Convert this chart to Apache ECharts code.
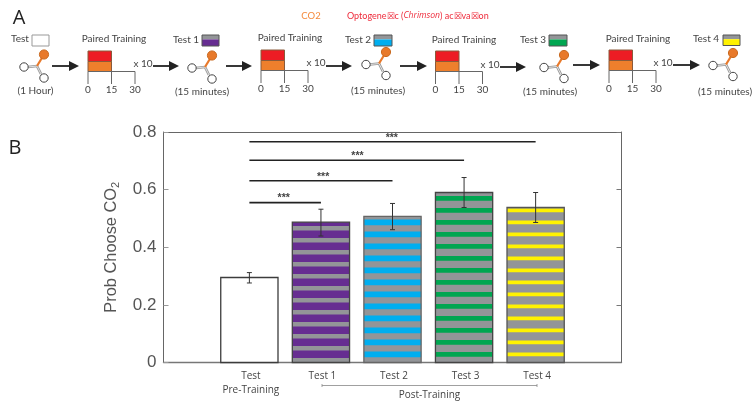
<!DOCTYPE html>
<html><head><meta charset="utf-8">
<style>html,body{margin:0;padding:0;background:#fff}#c{width:756px;height:420px}</style>
<script src="https://cdn.jsdelivr.net/npm/echarts@6/dist/echarts.min.js"></script>
</head><body><div id="c"></div>
<script>
// ---- data ----
const categories = ['Test', 'Test 1', 'Test 2', 'Test 3', 'Test 4'];
const secondLine = ['Pre-Training', '', '', '', ''];
const xPositions = [1, 2, 3, 4, 5];
const means = [0.295, 0.487, 0.507, 0.59, 0.538];
const errLow = [0.276, 0.439, 0.461, 0.538, 0.486];
const errHigh = [0.312, 0.532, 0.552, 0.642, 0.59];
const sigEnd = [2, 3, 4, 5];
const sigHeight = [0.555, 0.631, 0.702, 0.766];
const sigStarX = [1.48, 2.03, 2.51, 2.99];
const yTicks = [0, 0.2, 0.4, 0.6, 0.8];
const timeTicks = ['0', '15', '30'];

// ---- styles ----
const GRAY = '#939598';
const barStyles = [
  { fill: '#ffffff', stripe: null, thick: 0, border: '#3c3c3c' },
  { fill: GRAY, stripe: '#662d91', thick: 0.026, border: '#444' },
  { fill: GRAY, stripe: '#00aeef', thick: 0.02, border: '#666' },
  { fill: GRAY, stripe: '#00a651', thick: 0.0165, border: '#444' },
  { fill: GRAY, stripe: '#fff200', thick: 0.013, border: '#555' }
];
const STRIPE_FIRST = 0.0285, STRIPE_PERIOD = 12 / 288.1, BAR_W = 0.8;
const TXT = '#444', SANS = '"Open Sans"', AXISC = '#666', PANEL = '10px Lato';

function renderBar(params, api) {
  const i = params.dataIndex;
  const x = api.value(0), top = api.value(1), lo = api.value(2), hi = api.value(3);
  const st = barStyles[i];
  const c0 = api.coord([x, 0]), c1 = api.coord([x, top]);
  const w = api.size([BAR_W, 0])[0];
  const left = c0[0] - w / 2;
  const kids = [{ type: 'rect', shape: { x: left, y: c1[1], width: w, height: c0[1] - c1[1] }, style: { fill: st.fill } }];
  if (st.stripe) {
    for (let v = STRIPE_FIRST; v - st.thick / 2 < top; v += STRIPE_PERIOD) {
      const a = api.coord([x, v - st.thick / 2])[1];
      const b = api.coord([x, Math.min(top, v + st.thick / 2)])[1];
      kids.push({ type: 'rect', shape: { x: left, y: b, width: w, height: a - b }, style: { fill: st.stripe } });
    }
  }
  kids.push({ type: 'rect', shape: { x: left, y: c1[1], width: w, height: c0[1] - c1[1] }, style: { fill: 'none', stroke: st.border, lineWidth: 1.3 } });
  const pl = api.coord([x, lo])[1], ph = api.coord([x, hi])[1];
  const eb = { stroke: '#333', lineWidth: 1 };
  kids.push({ type: 'line', shape: { x1: c0[0], y1: pl, x2: c0[0], y2: ph }, style: eb });
  kids.push({ type: 'line', shape: { x1: c0[0] - 2.5, y1: pl, x2: c0[0] + 2.5, y2: pl }, style: eb });
  kids.push({ type: 'line', shape: { x1: c0[0] - 2.5, y1: ph, x2: c0[0] + 2.5, y2: ph }, style: eb });
  kids.push({ type: 'text', style: { x: c0[0] + 1.5, y: c0[1] + 14, text: categories[i], fill: TXT, font: '10px ' + SANS, align: 'center', verticalAlign: 'middle' } });
  if (secondLine[i]) kids.push({ type: 'text', style: { x: c0[0] + 1.5, y: c0[1] + 28, text: secondLine[i], fill: TXT, font: '10px ' + SANS, align: 'center', verticalAlign: 'middle' } });
  return { type: 'group', children: kids };
}
function renderSig(params, api) {
  const i = params.dataIndex;
  const a = api.coord([1, api.value(1)]), b = api.coord([api.value(0), api.value(1)]);
  const s = api.coord([sigStarX[i], api.value(1)]);
  return { type: 'group', children: [
    { type: 'line', shape: { x1: a[0], y1: a[1], x2: b[0], y2: b[1] }, style: { stroke: '#222', lineWidth: 1.6 } },
    { type: 'text', style: { x: s[0], y: s[1] - 4, text: '***', fill: '#444', font: 'bold 10.5px "Liberation Sans"', align: 'center', verticalAlign: 'middle' } }
  ] };
}

// ---- schematic (panel A) ----
const g = [];
const text = (x, y, t, o = {}) => g.push({ type: 'text', silent: true, style: Object.assign({ x, y, text: t, fill: TXT, font: PANEL, align: 'center', verticalAlign: 'middle' }, o) });
const line = (x1, y1, x2, y2, stroke, lineWidth) => g.push({ type: 'line', silent: true, shape: { x1, y1, x2, y2 }, style: { stroke, lineWidth } });
const rect = (x, y, width, height, fill, stroke) => g.push({ type: 'rect', silent: true, shape: { x, y, width, height }, style: { fill, stroke: stroke || 'none', lineWidth: 1 } });
const circle = (cx, cy, r, fill, stroke) => g.push({ type: 'circle', silent: true, shape: { cx, cy, r }, style: { fill, stroke: stroke || 'none', lineWidth: 1 } });

function arrow(x1, x2, y) {
  line(x1, y, x2 - 7, y, '#222', 1.8);
  g.push({ type: 'polygon', silent: true, shape: { points: [[x2 - 10, y - 5], [x2, y], [x2 - 10, y + 5]] }, style: { fill: '#222' } });
}
function molecule(bx, by) {
  const jx = bx - 7, jy = by + 11.5;
  line(bx - 16, by + 12.5, jx, jy, '#999', 2.6);
  line(jx, jy, bx - 3, by + 19.5, '#999', 2.6);
  line(bx - 16, by + 12.5, jx, jy, '#fff', 0.7);
  line(jx, jy, bx - 3, by + 19.5, '#fff', 0.7);
  line(bx, by, jx, jy, '#e8792a', 2.2);
  circle(bx, by, 4.6, '#e8792a', '#c96a20');
  circle(bx - 20, by + 12.5, 4.2, '#fff', '#444');
  circle(bx, by + 23.5, 4.2, '#fff', '#444');
}
function training(x, y, tx, ty, ly, xt, xty) {
  text(tx, ty, 'Paired Training');
  rect(x, y, 23.5, 10.5, '#ed1c24', '#8a5a3a');
  rect(x, y + 10.5, 23.5, 10, '#ee7f2c', '#8a5a3a');
  line(x, y + 20.5, x + 47, y + 20.5, AXISC, 1);
  line(x, y + 20.5, x, y + 33, AXISC, 1);
  line(x + 23.5, y + 20.5, x + 23.5, y + 33, AXISC, 1);
  line(x + 47, y + 20.5, x + 47, y + 33, AXISC, 1);
  timeTicks.forEach((t, k) => text(x + k * 23.5, ly, t));
  text(xt, xty, 'x 10');
}
function testBox(x, y, w, h, color) {
  if (color) {
    rect(x, y, w, h * 0.4, GRAY);
    rect(x, y + h * 0.4, w, h * 0.6, color);
  }
  rect(x, y, w, h, color ? 'none' : '#fff', color ? '#555' : '#999');
}
text(19, 18.5, 'A', { font: '20px ' + SANS, fill: '#222' });
text(15, 148, 'B', { font: '20px ' + SANS, fill: '#222' });
text(311, 16, 'CO2', { font: '9.5px Lato', fill: '#f58a3c' });
g.push({ type: 'text', silent: true, style: { x: 347, y: 16, verticalAlign: 'middle', align: 'left',
  text: 'Optogene☒c ({i|Chrimson}) ac☒va☒on', fill: '#ee2a3a', font: '9px Lato',
  rich: { i: { fontStyle: 'italic', fontSize: 8.6, fontFamily: 'Open Sans', fill: '#ee2a3a' } } } });

text(20, 39, 'Test'); testBox(32, 35, 17, 11, null); molecule(44, 54.5); text(35.5, 91, '(1 Hour)');
arrow(52, 79, 66);
training(88, 51, 114, 39, 90, 143, 64);
arrow(153, 179, 66);
text(186, 40, 'Test 1'); testBox(202, 35, 17, 11, '#662d91'); molecule(212, 55.5); text(202, 92, '(15 minutes)');
arrow(226, 252, 66);
training(261, 50, 290, 38, 89, 316, 63);
arrow(326, 352, 66);
text(358, 40, 'Test 2'); testBox(374, 35, 18, 11, '#00aeef'); molecule(386, 52); text(378, 91, '(15 minutes)');
arrow(400, 427, 66);
training(435.5, 51, 464, 40, 90, 490, 65);
arrow(500, 526, 67);
text(533, 40, 'Test 3'); testBox(549, 35, 18, 11, '#00a651'); molecule(564, 55); text(550, 92, '(15 minutes)');
arrow(573, 600, 65);
training(609, 50, 638, 39, 89, 663, 63);
arrow(673, 700, 65);
text(706, 39, 'Test 4'); testBox(723, 35, 17, 10.5, '#fff200'); molecule(733, 53); text(725, 92, '(15 minutes)');

// bracket under the x axis
line(322, 385.5, 537, 385.5, '#888', 0.8);
line(322, 384, 322, 387, '#888', 0.8);
line(537, 384, 537, 387, '#888', 0.8);
text(429.5, 395.5, 'Post-Training', { font: '10px ' + SANS });

const chart = echarts.init(document.getElementById('c'), null, { renderer: 'canvas' });
const yBase = { type: 'value', min: 0, max: 0.8, interval: 0.2, splitLine: { show: false } };
const xBase = { type: 'value', min: -0.2, max: 6.2, splitLine: { show: false }, axisTick: { show: false }, axisLabel: { show: false } };
chart.setOption({
  animation: false,
  backgroundColor: '#fff',
  grid: { left: 163.5, right: 134.5, top: 132, bottom: 57.5, containLabel: false },
  xAxis: [
    Object.assign({}, xBase, { position: 'bottom', axisLine: { onZero: false, lineStyle: { color: '#777', width: 1.4 } } }),
    Object.assign({}, xBase, { position: 'top', axisLine: { onZero: false, lineStyle: { color: AXISC, width: 1 } } })
  ],
  yAxis: [
    Object.assign({}, yBase, {
      position: 'left',
      axisLine: { show: true, onZero: false, lineStyle: { color: AXISC, width: 1 } },
      axisTick: { show: true, inside: true, length: 5, lineStyle: { color: '#999' } },
      axisLabel: { show: true, margin: 7, color: '#555', fontSize: 17, fontFamily: 'Liberation Sans', formatter: v => yTicks.includes(v) ? String(v) : '' },
      name: '{a|Prob Choose CO}{s|2}',
      nameLocation: 'middle',
      nameGap: 38,
      nameTextStyle: { rich: { a: { fontSize: 16.4, color: '#555', fontFamily: 'Liberation Sans' }, s: { fontSize: 11, color: '#555', fontFamily: 'Liberation Sans', padding: [9, 0, 0, 0] } } }
    }),
    Object.assign({}, yBase, {
      position: 'right',
      axisLine: { show: true, onZero: false, lineStyle: { color: AXISC, width: 1 } },
      axisTick: { show: true, inside: true, length: 5, lineStyle: { color: '#777' } },
      axisLabel: { show: false }
    })
  ],
  graphic: { elements: g },
  series: [
    { type: 'custom', renderItem: renderBar, clip: false, encode: { x: 0, y: 1 },
      data: xPositions.map((x, i) => [x, means[i], errLow[i], errHigh[i]]) },
    { type: 'custom', renderItem: renderSig, clip: false, encode: { x: 0, y: 1 },
      data: sigEnd.map((x, i) => [x, sigHeight[i]]) }
  ]
});
</script></body></html>
